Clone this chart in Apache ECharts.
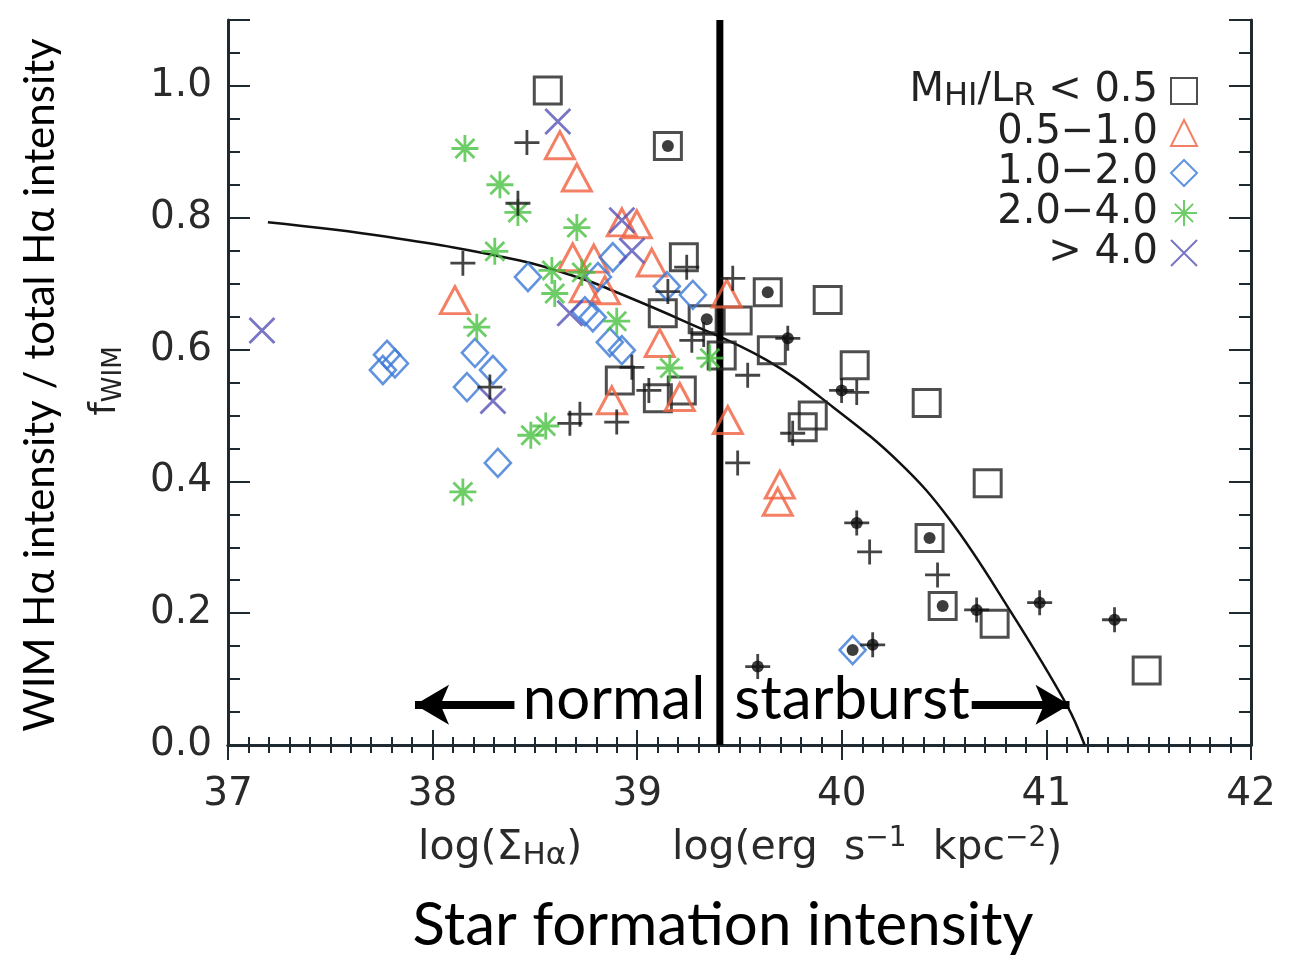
<!DOCTYPE html>
<html>
<head>
<meta charset="utf-8">
<script src="https://cdn.jsdelivr.net/npm/echarts@6/dist/echarts.min.js"></script>
<style>
html, body { margin: 0; padding: 0; background: #fff; }
#chart { width: 1303px; height: 956px; }
</style>
</head>
<body>
<div id="chart"></div>
<script>
// points: [log(Sigma_Halpha), f_WIM]
var squares = [  // M_HI/L_R < 0.5
  [38.563, 0.993], [39.150, 0.909], [39.228, 0.740], [39.125, 0.655], [39.320, 0.646],
  [39.491, 0.644], [39.413, 0.591], [39.638, 0.687], [39.931, 0.675], [39.658, 0.599],
  [40.063, 0.576], [39.858, 0.500], [39.809, 0.482], [40.415, 0.519], [40.713, 0.397],
  [38.915, 0.553], [39.101, 0.526], [39.218, 0.538], [40.429, 0.314], [40.493, 0.211],
  [40.747, 0.184], [41.490, 0.113]
];
var triangles = [  // 0.5-1.0
  [38.622, 0.910], [38.705, 0.861], [38.925, 0.793], [38.998, 0.790], [39.071, 0.732],
  [38.685, 0.740], [38.788, 0.738], [38.744, 0.693], [38.842, 0.690], [39.438, 0.685],
  [38.109, 0.675], [39.110, 0.610], [38.876, 0.523], [39.208, 0.528], [39.443, 0.493],
  [39.697, 0.395], [39.687, 0.369]
];
var diamonds = [  // 1.0-2.0
  [37.777, 0.592], [37.816, 0.579], [37.757, 0.569], [38.207, 0.595], [38.295, 0.569],
  [38.168, 0.543], [38.319, 0.428], [38.466, 0.710], [38.881, 0.740], [38.808, 0.710],
  [38.744, 0.658], [38.783, 0.649], [38.866, 0.611], [38.925, 0.599], [39.145, 0.696],
  [39.272, 0.683], [40.053, 0.144]
];
var stars = [  // 2.0-4.0
  [38.158, 0.905], [38.329, 0.850], [38.417, 0.808], [38.304, 0.749], [38.705, 0.785],
  [38.583, 0.720], [38.729, 0.717], [38.597, 0.685], [38.216, 0.634], [38.900, 0.643],
  [39.159, 0.572], [39.355, 0.587], [38.553, 0.484], [38.480, 0.470], [38.148, 0.384]
];
var crosses = [  // > 4.0
  [37.166, 0.629], [38.612, 0.946], [38.925, 0.796], [38.974, 0.750], [38.671, 0.655],
  [38.295, 0.522]
];
var pluses = [  // no M_HI
  [38.461, 0.914], [38.417, 0.822], [38.148, 0.731], [39.242, 0.725], [39.150, 0.688],
  [39.467, 0.708], [39.267, 0.614], [39.325, 0.623], [38.974, 0.573], [39.057, 0.538],
  [38.720, 0.502], [38.671, 0.488], [38.900, 0.490], [38.280, 0.543], [39.540, 0.561],
  [39.491, 0.428], [39.760, 0.473], [40.073, 0.535], [40.136, 0.293], [40.468, 0.258],
  [39.736, 0.617], [39.999, 0.538], [40.073, 0.337], [40.151, 0.152], [39.589, 0.119],
  [40.659, 0.205], [40.967, 0.216], [41.333, 0.190]
];
var dots = [
  [39.150, 0.909], [39.340, 0.646], [39.638, 0.687], [40.429, 0.314], [40.493, 0.211],
  [40.053, 0.144], [39.736, 0.617], [39.999, 0.538], [40.073, 0.337], [40.151, 0.152],
  [39.589, 0.119], [40.659, 0.205], [40.967, 0.216], [41.333, 0.190]
];
var curve = [
  [37.195, 0.793], [37.777, 0.771], [38.426, 0.735], [38.734, 0.707], [38.852, 0.693],
  [39.223, 0.644], [39.633, 0.584], [39.956, 0.513], [40.283, 0.428], [40.527, 0.342],
  [40.820, 0.205], [41.099, 0.061], [41.187, 0.000]
];
var divideX = 39.404;
var arrowY = 0.061;
var leftArrow = [38.40, 37.914];
var rightArrow = [40.635, 41.113];
var legendNames = ['lt05', '0.5\u22121.0', '1.0\u22122.0', '2.0\u22124.0', '> 4.0'];

var plusPath = 'path://M10,0L10,20M0,10L20,10';
var xPath = 'path://M0,0L20,20M0,20L20,0';
var starPath = 'path://M10,0L10,20M0,10L20,10M3,3L17,17M3,17L17,3';

var frame = '#1f2a30';
var tickFont = 'DejaVu Sans';
var textFont = 'Lato';

function openStyle(c, w) {
  return { color: 'rgba(0,0,0,0)', borderColor: c, borderWidth: w };
}

var chart = echarts.init(document.getElementById('chart'));

var option = {
  backgroundColor: '#fff',
  animation: false,
  grid: { left: 228, right: 52, top: 20, bottom: 211 },
  xAxis: [
    {
      type: 'value', min: 37, max: 42, interval: 1, position: 'bottom',
      axisLine: { lineStyle: { color: frame, width: 3 } },
      axisTick: { inside: true, length: 15, lineStyle: { color: frame, width: 2 } },
      minorTick: { show: true, splitNumber: 10, length: 8, lineStyle: { color: frame, width: 2 } },
      splitLine: { show: false },
      axisLabel: { margin: 30, fontFamily: tickFont, fontSize: 39, color: '#2a2a2a' }
    },
    {
      type: 'value', min: 37, max: 42, interval: 1, position: 'top',
      axisLine: { lineStyle: { color: frame, width: 3 } },
      axisTick: { inside: true, length: 15, lineStyle: { color: frame, width: 2 } },
      minorTick: { show: true, splitNumber: 10, length: 8, lineStyle: { color: frame, width: 2 } },
      splitLine: { show: false },
      axisLabel: { show: false }
    }
  ],
  yAxis: [
    {
      type: 'value', min: 0, max: 1.1, interval: 0.2, position: 'left',
      axisLine: { show: true, lineStyle: { color: frame, width: 3 } },
      axisTick: { show: true, inside: true, length: 22, lineStyle: { color: frame, width: 2 } },
      splitLine: { show: false },
      axisLabel: {
        margin: 16, fontFamily: tickFont, fontSize: 39, color: '#2a2a2a',
        formatter: function (v) { return v > 1.05 ? '' : v.toFixed(1); }
      }
    },
    {
      type: 'value', min: 0, max: 1.1, interval: 0.05, position: 'left',
      axisLine: { show: false },
      axisTick: { show: true, inside: true, length: 12, lineStyle: { color: frame, width: 2 } },
      splitLine: { show: false },
      axisLabel: { show: false }
    },
    {
      type: 'value', min: 0, max: 1.1, interval: 0.2, position: 'right',
      axisLine: { show: true, lineStyle: { color: frame, width: 3 } },
      axisTick: { show: true, inside: true, length: 22, lineStyle: { color: frame, width: 2 } },
      splitLine: { show: false },
      axisLabel: { show: false }
    },
    {
      type: 'value', min: 0, max: 1.1, interval: 0.05, position: 'right',
      axisLine: { show: false },
      axisTick: { show: true, inside: true, length: 12, lineStyle: { color: frame, width: 2 } },
      splitLine: { show: false },
      axisLabel: { show: false }
    }
  ],
  legend: {
    orient: 'vertical', right: 100, top: 64, align: 'right',
    itemWidth: 26, itemHeight: 26, itemGap: 0,
    selectedMode: false,
    data: legendNames,
    textStyle: {
      fontFamily: tickFont, fontSize: 40, lineHeight: 39.5, color: '#222', padding: [0, 8, 0, 0],
      rich: {
        n: { fontFamily: tickFont, fontSize: 40, lineHeight: 36, color: '#222' },
        s: { fontFamily: tickFont, fontSize: 32, lineHeight: 24, color: '#222', padding: [12, 0, 0, 0] }
      }
    },
    formatter: function (name) {
      if (name === 'lt05') return '{n|M}{s|HI}{n|/L}{s|R}{n| < 0.5}';
      return name;
    }
  },
  series: [
    {
      name: 'curve', type: 'line', data: curve, smooth: 0.4, symbol: 'none',
      lineStyle: { color: '#111', width: 2.5 }, z: 2
    },
    {
      name: 'divide', type: 'line', data: [[divideX, 0], [divideX, 1.1]], symbol: 'none',
      lineStyle: { color: '#000', width: 7 }, z: 3,
      markLine: {
        silent: true, symbol: ['none', 'arrow'], symbolSize: [30, 34],
        lineStyle: { color: '#000', width: 8, type: 'solid' },
        label: { show: false },
        data: [
          [{ coord: [leftArrow[0], arrowY] }, { coord: [leftArrow[1], arrowY] }],
          [{ coord: [rightArrow[0], arrowY] }, { coord: [rightArrow[1], arrowY] }]
        ]
      }
    },
    {
      name: 'lt05', type: 'scatter', data: squares, symbol: 'rect', symbolSize: 27,
      itemStyle: openStyle('#222', 3), z: 4
    },
    {
      name: legendNames[1], type: 'scatter', data: triangles, symbol: 'triangle', symbolSize: [29, 27],
      itemStyle: openStyle('#f0603f', 3), z: 4
    },
    {
      name: legendNames[2], type: 'scatter', data: diamonds, symbol: 'diamond', symbolSize: [26, 28],
      itemStyle: openStyle('#3a78d6', 2.6), z: 4
    },
    {
      name: legendNames[3], type: 'scatter', data: stars, symbol: starPath, symbolSize: 27,
      itemStyle: openStyle('#48c040', 2.8), z: 4
    },
    {
      name: legendNames[4], type: 'scatter', data: crosses, symbol: xPath, symbolSize: 25,
      itemStyle: openStyle('#5652b8', 2.8), z: 4
    },
    {
      name: 'plus', type: 'scatter', data: pluses, symbol: plusPath, symbolSize: 25,
      itemStyle: openStyle('#151515', 2.8), z: 4
    },
    {
      name: 'dot', type: 'scatter', data: dots, symbol: 'circle', symbolSize: 12,
      itemStyle: { color: '#0d0d0d' }, z: 5
    }
  ],
  graphic: [
    {
      type: 'text', x: 40, y: 385, rotation: Math.PI / 2,
      style: {
        text: 'WIM H\u03b1 intensity / total H\u03b1 intensity',
        fontFamily: textFont, fontSize: 42, fill: '#000',
        align: 'center', verticalAlign: 'middle'
      }
    },
    {
      type: 'text', x: 105, y: 381, rotation: Math.PI / 2,
      style: {
        text: '{f|f}{s|WIM}',
        align: 'center', verticalAlign: 'middle',
        rich: {
          f: { fontFamily: tickFont, fontSize: 38, fill: '#222' },
          s: { fontFamily: tickFont, fontSize: 26, fill: '#222', padding: [18, 0, 0, 0] }
        }
      }
    },
    {
      type: 'text', x: 418, y: 848,
      style: {
        text: '{n|log(\u03a3}{s|H\u03b1}{n|)}',
        align: 'left', verticalAlign: 'middle',
        rich: {
          n: { fontFamily: tickFont, fontSize: 41, fill: '#2a2a2a' },
          s: { fontFamily: tickFont, fontSize: 31, fill: '#2a2a2a', padding: [16, 0, 0, 0] }
        }
      }
    },
    {
      type: 'text', x: 672, y: 848,
      style: {
        text: '{n|log(erg  s}{p|\u22121}{n|  kpc}{p|\u22122}{n|)}',
        align: 'left', verticalAlign: 'middle',
        rich: {
          n: { fontFamily: tickFont, fontSize: 41, fill: '#2a2a2a' },
          p: { fontFamily: tickFont, fontSize: 28, fill: '#2a2a2a', padding: [0, 0, 18, 0] }
        }
      }
    },
    {
      type: 'text', x: 723, y: 926,
      style: {
        text: 'Star formation intensity', fontFamily: textFont, fontSize: 60, fill: '#000',
        align: 'center', verticalAlign: 'middle'
      }
    },
    {
      type: 'text', x: 614, y: 700, z: 10,
      style: {
        text: 'normal', fontFamily: textFont, fontSize: 60, fill: '#000',
        align: 'center', verticalAlign: 'middle'
      }
    },
    {
      type: 'text', x: 852, y: 700, z: 10,
      style: {
        text: 'starburst', fontFamily: textFont, fontSize: 60, fill: '#000',
        align: 'center', verticalAlign: 'middle'
      }
    }
  ]
};

chart.setOption(option);
</script>
</body>
</html>
